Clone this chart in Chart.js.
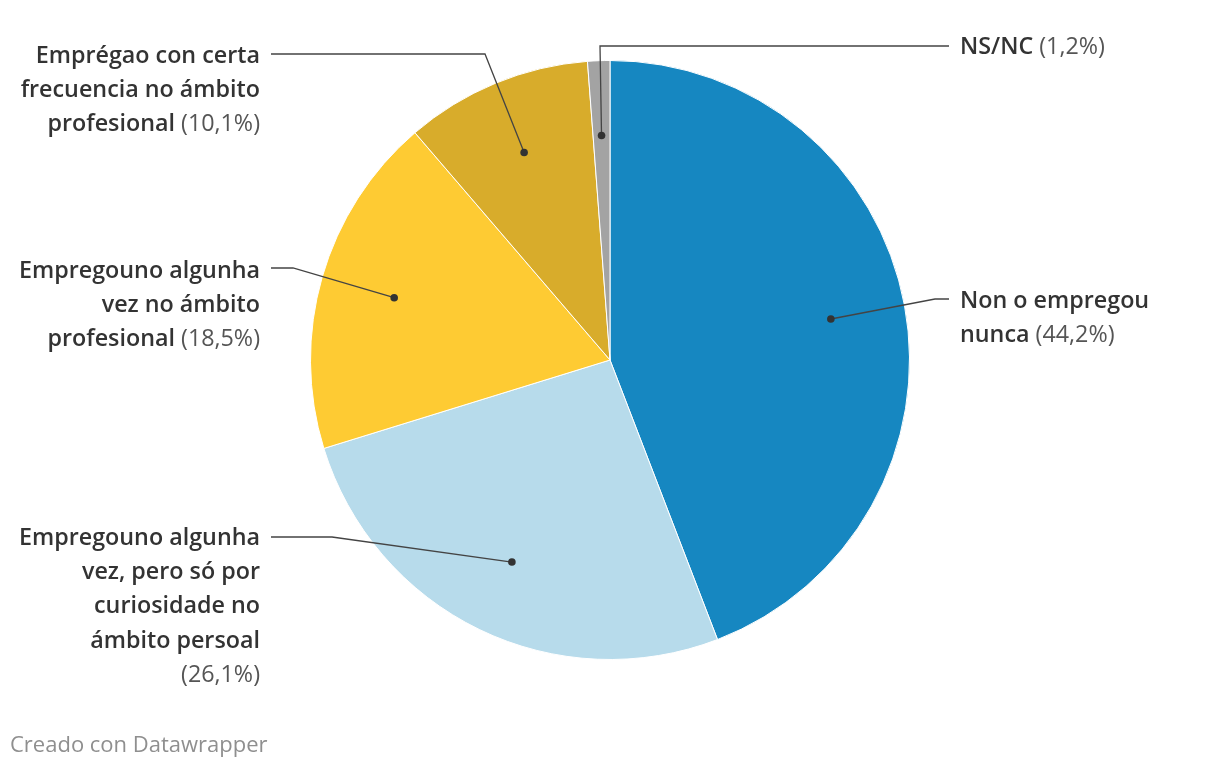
<!DOCTYPE html>
<html>
<head>
<meta charset="utf-8">
<script src="https://cdn.jsdelivr.net/npm/chart.js@4/dist/chart.umd.min.js"></script>
<style>
  html, body { margin: 0; padding: 0; background: #fff; }
  #wrap { width: 1220px; height: 770px; position: relative; }
</style>
</head>
<body>
<div id="wrap"><canvas id="c" width="1220" height="770"></canvas></div>
<script>
// ---- data ----
const categories = [
  "Non o empregou nunca",
  "Empregouno algunha vez, pero só por curiosidade no ámbito persoal",
  "Empregouno algunha vez no ámbito profesional",
  "Emprégao con certa frecuencia no ámbito profesional",
  "NS/NC"
];
const values = [44.2, 26.1, 18.5, 10.1, 1.2];
// wrapped label lines as shown in the chart
const labelLines = [
  ["Non o empregou", "nunca"],
  ["Empregouno algunha", "vez, pero só por", "curiosidade no", "ámbito persoal", ""],
  ["Empregouno algunha", "vez no ámbito", "profesional"],
  ["Emprégao con certa", "frecuencia no ámbito", "profesional"],
  ["NS/NC"]
];
const colors = ["#1687c1", "#b7dbeb", "#fecb33", "#d8ac2b", "#a3a3a3"];

// ---- label layout (annotation positions) ----
const labelLayout = [
  { side: "right", x: 960, y: 301, elbowX: 935, lineY: 299 },
  { side: "left",  x: 260, y: 538, elbowX: 332, lineY: 537 },
  { side: "left",  x: 260, y: 271, elbowX: 293, lineY: 268 },
  { side: "left",  x: 260, y: 56,  elbowX: 485, lineY: 54 },
  { side: "right", x: 960, y: 47,  elbowX: 600, lineY: 46 }
];

const FONT = "'Open Sans', 'Noto Sans', sans-serif";
const FS = 23.3;
const LINE_H = 34.3;

function fmtPct(v) { return "(" + v.toFixed(1).replace(".", ",") + "%)"; }

const labelPlugin = {
  id: "leaderLabels",
  afterDraw(chart) {
    const ctx = chart.ctx;
    const meta = chart.getDatasetMeta(0);
    ctx.save();
    meta.data.forEach((arc, i) => {
      const p = arc.getProps(["x", "y", "startAngle", "endAngle", "outerRadius"], true);
      const mid = (p.startAngle + p.endAngle) / 2;
      const r = p.outerRadius * 0.75;
      const dx = p.x + Math.cos(mid) * r;
      const dy = p.y + Math.sin(mid) * r;
      const L = labelLayout[i];
      // leader line
      ctx.strokeStyle = "#444";
      ctx.lineWidth = 1.3;
      ctx.beginPath();
      const startX = L.side === "left" ? L.x + 11 : L.x - 11;
      ctx.moveTo(startX, L.lineY);
      ctx.lineTo(L.elbowX, L.lineY);
      ctx.lineTo(dx, dy);
      ctx.stroke();
      ctx.fillStyle = "#333";
      ctx.beginPath();
      ctx.arc(dx, dy, 3.8, 0, Math.PI * 2);
      ctx.fill();
      // text
      const lines = labelLines[i];
      const pct = fmtPct(values[i]);
      ctx.textBaseline = "middle";
      lines.forEach((ln, k) => {
        const y = L.y + k * LINE_H;
        const isLast = k === lines.length - 1;
        const boldFont = "600 " + FS + "px " + FONT;
        const normFont = "400 " + FS + "px " + FONT;
        let boldTxt = ln;
        let normTxt = isLast ? (ln ? " " + pct : pct) : "";
        ctx.font = boldFont;
        const bw = ctx.measureText(boldTxt).width;
        ctx.font = normFont;
        const nw = ctx.measureText(normTxt).width;
        let x0 = L.side === "left" ? L.x - (bw + nw) : L.x;
        ctx.textAlign = "left";
        ctx.font = boldFont;
        ctx.fillStyle = "#333333";
        ctx.fillText(boldTxt, x0, y);
        ctx.font = normFont;
        ctx.fillStyle = "#555555";
        ctx.fillText(normTxt, x0 + bw, y);
      });
    });
    // footer
    ctx.font = "400 22px " + FONT;
    ctx.fillStyle = "#8f8f8f";
    ctx.textAlign = "left";
    ctx.textBaseline = "middle";
    ctx.fillText("Creado con Datawrapper", 10, 746);
    ctx.restore();
  }
};

new Chart(document.getElementById("c"), {
  type: "pie",
  data: {
    labels: categories,
    datasets: [{
      data: values,
      backgroundColor: colors,
      borderColor: "#ffffff",
      borderWidth: 1
    }]
  },
  options: {
    responsive: false,
    animation: false,
    events: [],
    layout: { padding: { top: 60, bottom: 110, left: 310, right: 310 } },
    plugins: { legend: { display: false }, tooltip: { enabled: false } }
  },
  plugins: [labelPlugin]
});
</script>
</body>
</html>
